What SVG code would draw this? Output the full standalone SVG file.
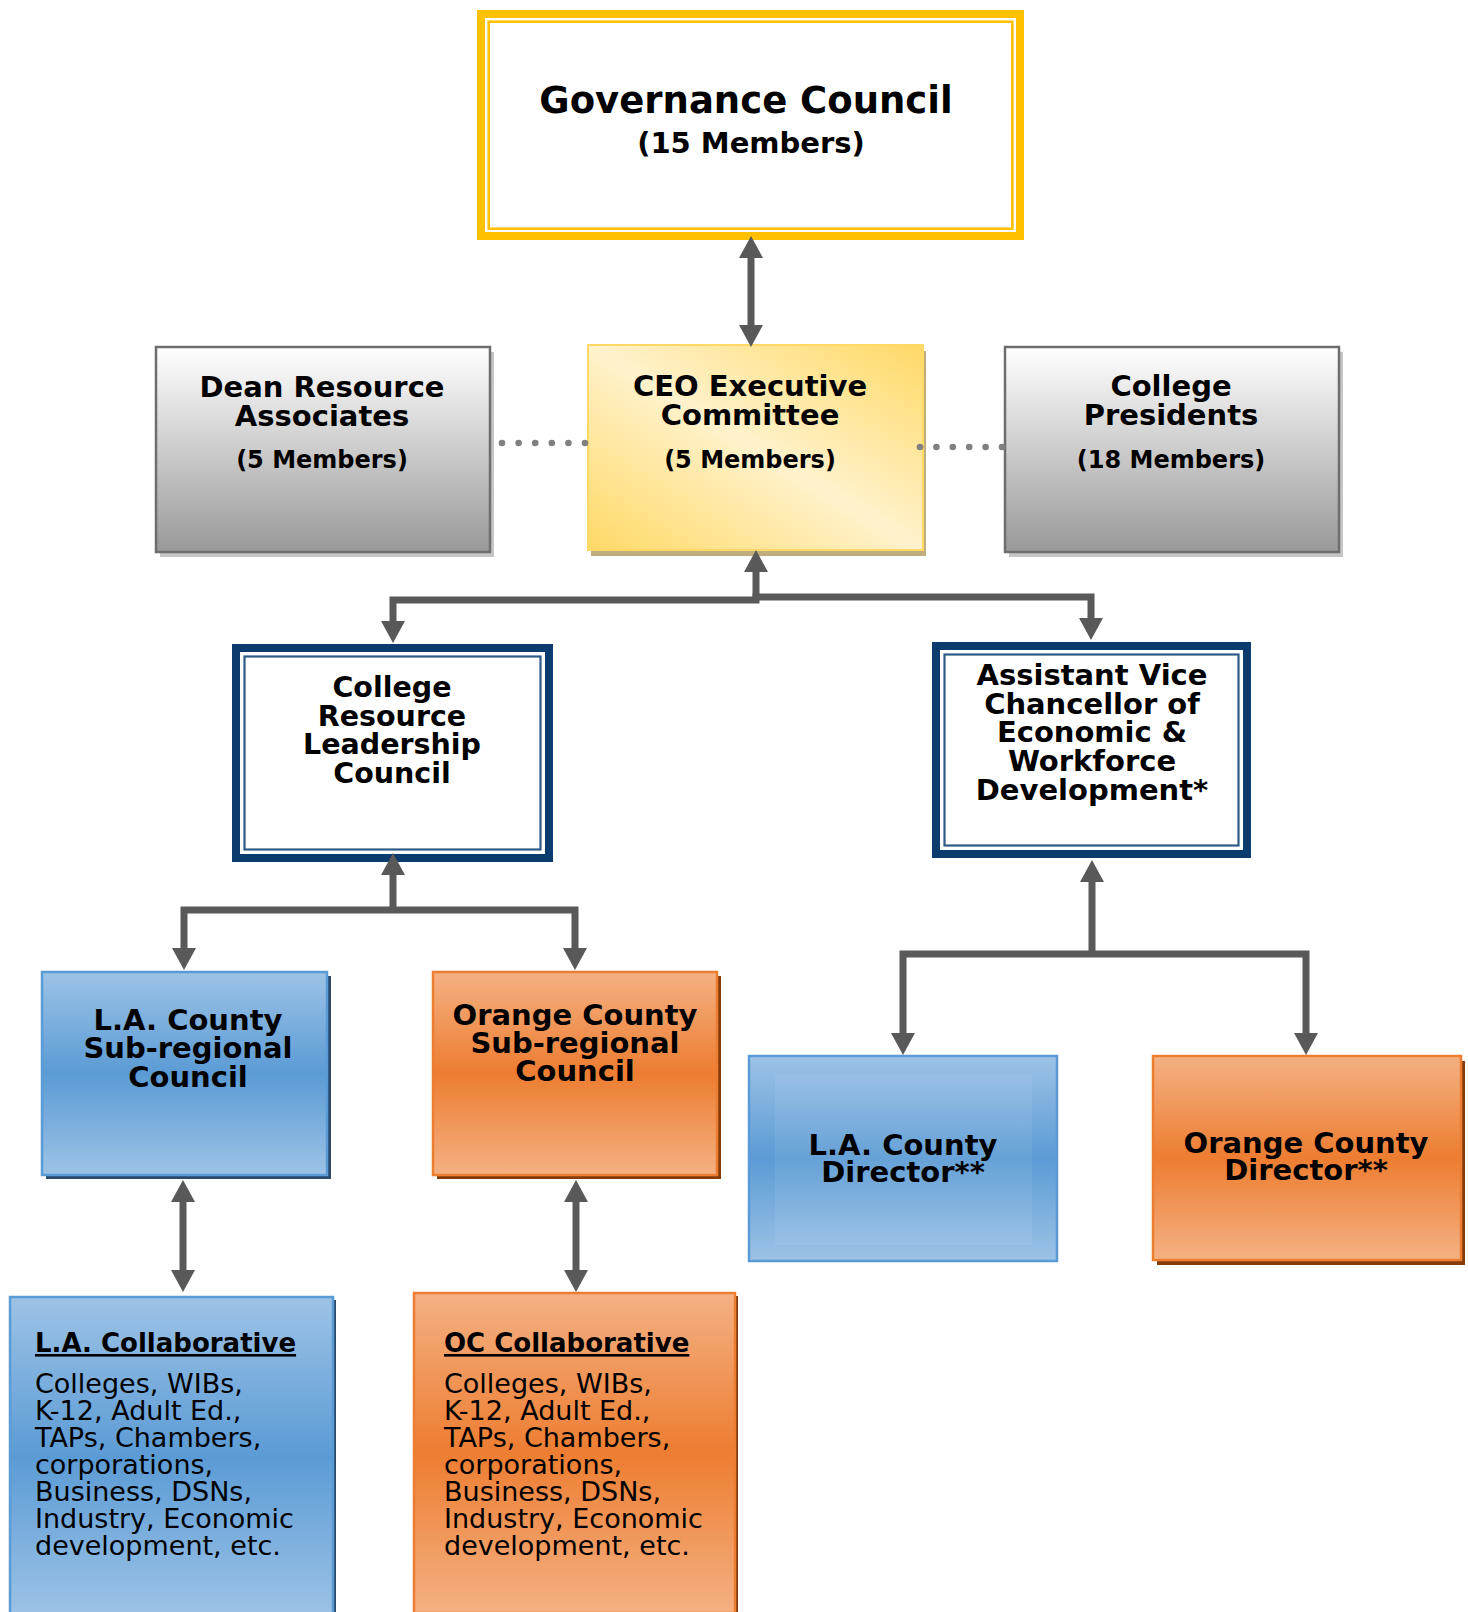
<svg xmlns="http://www.w3.org/2000/svg" width="1468" height="1612" viewBox="0 0 1468 1612">
<style>
text{font-family:"DejaVu Sans",Verdana,sans-serif;fill:#000}
.b{font-weight:bold;text-anchor:middle}
.t29{font-size:29px}
.t28{font-size:28.5px}
.m{font-size:24px;font-weight:bold;text-anchor:middle}
.ct{font-size:26px;font-weight:bold;text-decoration:underline}
.body{font-size:27px}
.conn{fill:none;stroke:#595959;stroke-width:7;stroke-linejoin:miter}
.dot{fill:#808080}
.navy{fill:none;stroke:#0c3c6e;stroke-width:8}
.navyIn{fill:none;stroke:#2e5a88;stroke-width:2.2}
</style>
<defs>
<linearGradient id="gGray" x1="0" y1="0" x2="0" y2="1">
<stop offset="0" stop-color="#ffffff"/><stop offset="1" stop-color="#999999"/>
</linearGradient>
<linearGradient id="gYel" x1="1" y1="0" x2="0" y2="1">
<stop offset="0" stop-color="#ffd966"/><stop offset="0.5" stop-color="#fff2cc"/><stop offset="1" stop-color="#ffd966"/>
</linearGradient>
<linearGradient id="gBlue" x1="0" y1="0" x2="0" y2="1">
<stop offset="0" stop-color="#9dc3e6"/><stop offset="0.5" stop-color="#5b9bd5"/><stop offset="1" stop-color="#9dc3e6"/>
</linearGradient>
<linearGradient id="gOr" x1="0" y1="0" x2="0" y2="1">
<stop offset="0" stop-color="#f4b183"/><stop offset="0.5" stop-color="#ed7d31"/><stop offset="1" stop-color="#f4b183"/>
</linearGradient>
<marker id="ah" viewBox="0 0 22 24" refX="0" refY="12" markerWidth="22" markerHeight="24" markerUnits="userSpaceOnUse" orient="auto-start-reverse">
<path d="M0,0 L22,12 L0,24 z" fill="#595959"/>
</marker>
</defs>

<g id="governance-council">
<rect x="481" y="14" width="539" height="222" fill="#fff" stroke="#ffc000" stroke-width="8"/>
<rect x="488.7" y="21.7" width="523.6" height="207" fill="none" stroke="#ffc000" stroke-width="2.6"/>
<text class="b" x="746" y="113" style="font-size:37px">Governance Council</text>
<text class="b" x="751" y="153" style="font-size:29px">(15 Members)</text>
</g>

<g id="dean-resource-associates">
<rect x="160" y="352" width="334" height="205" fill="#c6c6c6"/>
<rect x="156" y="347" width="334" height="205" fill="url(#gGray)" stroke="#6e6e6e" stroke-width="2.5"/>
<text class="b t29" x="322" y="397">Dean Resource</text>
<text class="b t29" x="322" y="426">Associates</text>
<text class="m" x="322" y="468">(5 Members)</text>
</g>

<g id="ceo-executive-committee">
<rect x="591" y="351" width="335" height="205" fill="#c0ad7c"/>
<rect x="588" y="345" width="335" height="205" fill="url(#gYel)" stroke="#ffd966" stroke-width="2"/>
<text class="b t29" x="750" y="396">CEO Executive</text>
<text class="b t29" x="750" y="425">Committee</text>
<text class="m" x="750" y="468">(5 Members)</text>
</g>

<g id="college-presidents">
<rect x="1009" y="352" width="334" height="205" fill="#c6c6c6"/>
<rect x="1005" y="347" width="334" height="205" fill="url(#gGray)" stroke="#6e6e6e" stroke-width="2.5"/>
<text class="b t29" x="1171" y="396">College</text>
<text class="b t29" x="1171" y="425">Presidents</text>
<text class="m" x="1171" y="468">(18 Members)</text>
</g>

<g id="college-resource-leadership-council">
<rect x="236" y="648" width="313" height="210" fill="#fff" class="navy"/>
<rect x="244.5" y="656.5" width="296" height="193" class="navyIn"/>
<text class="b t28" x="392" y="697">College</text>
<text class="b t28" x="392" y="725.5">Resource</text>
<text class="b t28" x="392" y="754">Leadership</text>
<text class="b t28" x="392" y="782.5">Council</text>
</g>

<g id="assistant-vice-chancellor">
<rect x="936" y="646" width="311" height="208" fill="#fff" class="navy"/>
<rect x="944.5" y="654.5" width="294" height="191" class="navyIn"/>
<text class="b t29" x="1092" y="685">Assistant Vice</text>
<text class="b t29" x="1092" y="713.5">Chancellor of</text>
<text class="b t29" x="1092" y="742">Economic &amp;</text>
<text class="b t29" x="1092" y="771">Workforce</text>
<text class="b t29" x="1092" y="800">Development*</text>
</g>

<g id="la-county-subregional-council">
<rect x="46" y="976" width="285" height="203" fill="#2b4a6a"/>
<rect x="42" y="972" width="285" height="203" fill="url(#gBlue)" stroke="#5b9bd5" stroke-width="2.5"/>
<text class="b t29" x="188" y="1030">L.A. County</text>
<text class="b t29" x="188" y="1058">Sub-regional</text>
<text class="b t29" x="188" y="1087">Council</text>
</g>

<g id="oc-subregional-council">
<rect x="437" y="976" width="284" height="203" fill="#843c0c"/>
<rect x="433" y="972" width="284" height="203" fill="url(#gOr)" stroke="#ed7d31" stroke-width="2.5"/>
<text class="b t29" x="575" y="1025">Orange County</text>
<text class="b t29" x="575" y="1053">Sub-regional</text>
<text class="b t29" x="575" y="1081">Council</text>
</g>

<g id="la-county-director">
<rect x="749" y="1056" width="308" height="205" fill="url(#gBlue)" stroke="#5b9bd5" stroke-width="2.5"/>
<rect x="775" y="1075" width="257" height="170" fill="#ffffff" fill-opacity="0.07"/>
<text class="b t29" x="903" y="1155">L.A. County</text>
<text class="b t29" x="903" y="1182">Director**</text>
</g>

<g id="oc-director">
<rect x="1157" y="1061" width="308" height="204" fill="#843c0c"/>
<rect x="1153" y="1056" width="308" height="204" fill="url(#gOr)" stroke="#ed7d31" stroke-width="2.5"/>
<text class="b t29" x="1306" y="1153">Orange County</text>
<text class="b t29" x="1306" y="1180">Director**</text>
</g>

<g id="la-collaborative">
<rect x="13" y="1300" width="323" height="320" fill="#2b4a6a"/>
<rect x="10" y="1297" width="323" height="320" fill="url(#gBlue)" stroke="#5b9bd5" stroke-width="2.5"/>
<text class="ct" x="35" y="1352">L.A. Collaborative</text>
<text class="body" x="35" y="1393">Colleges, WIBs,</text>
<text class="body" x="35" y="1420">K-12, Adult Ed.,</text>
<text class="body" x="35" y="1447">TAPs, Chambers,</text>
<text class="body" x="35" y="1474">corporations,</text>
<text class="body" x="35" y="1501">Business, DSNs,</text>
<text class="body" x="35" y="1528">Industry, Economic</text>
<text class="body" x="35" y="1555">development, etc.</text>
</g>

<g id="oc-collaborative">
<rect x="417" y="1296" width="321" height="320" fill="#843c0c"/>
<rect x="414" y="1293" width="321" height="320" fill="url(#gOr)" stroke="#ed7d31" stroke-width="2.5"/>
<text class="ct" x="444" y="1352">OC Collaborative</text>
<text class="body" x="444" y="1393">Colleges, WIBs,</text>
<text class="body" x="444" y="1420">K-12, Adult Ed.,</text>
<text class="body" x="444" y="1447">TAPs, Chambers,</text>
<text class="body" x="444" y="1474">corporations,</text>
<text class="body" x="444" y="1501">Business, DSNs,</text>
<text class="body" x="444" y="1528">Industry, Economic</text>
<text class="body" x="444" y="1555">development, etc.</text>
</g>

<g id="connectors">
<g class="dot">
<circle cx="502" cy="443" r="3.3"/><circle cx="518.6" cy="443" r="3.3"/><circle cx="535.2" cy="443" r="3.3"/><circle cx="551.8" cy="443" r="3.3"/><circle cx="568.4" cy="443" r="3.3"/><circle cx="585" cy="443" r="3.3"/>
<circle cx="920" cy="447" r="3.3"/><circle cx="936.4" cy="447" r="3.3"/><circle cx="952.8" cy="447" r="3.3"/><circle cx="969.2" cy="447" r="3.3"/><circle cx="985.6" cy="447" r="3.3"/><circle cx="1002" cy="447" r="3.3"/>
</g>
<path class="conn" d="M751,258 V325" marker-start="url(#ah)" marker-end="url(#ah)"/>
<path class="conn" d="M756,600 V572" marker-end="url(#ah)"/>
<path class="conn" d="M759.5,600 H393 V621" marker-end="url(#ah)"/>
<path class="conn" d="M752.5,597 H1091 V618" marker-end="url(#ah)"/>
<path class="conn" d="M393,910 V875" marker-end="url(#ah)"/>
<path class="conn" d="M393,910 H184 V948" marker-end="url(#ah)"/>
<path class="conn" d="M393,910 H575 V948" marker-end="url(#ah)"/>
<path class="conn" d="M1092,954 V882" marker-end="url(#ah)"/>
<path class="conn" d="M1092,954 H903 V1033" marker-end="url(#ah)"/>
<path class="conn" d="M1092,954 H1306 V1033" marker-end="url(#ah)"/>
<path class="conn" d="M183,1202 V1270" marker-start="url(#ah)" marker-end="url(#ah)"/>
<path class="conn" d="M576,1202 V1270" marker-start="url(#ah)" marker-end="url(#ah)"/>
</g>
</svg>
